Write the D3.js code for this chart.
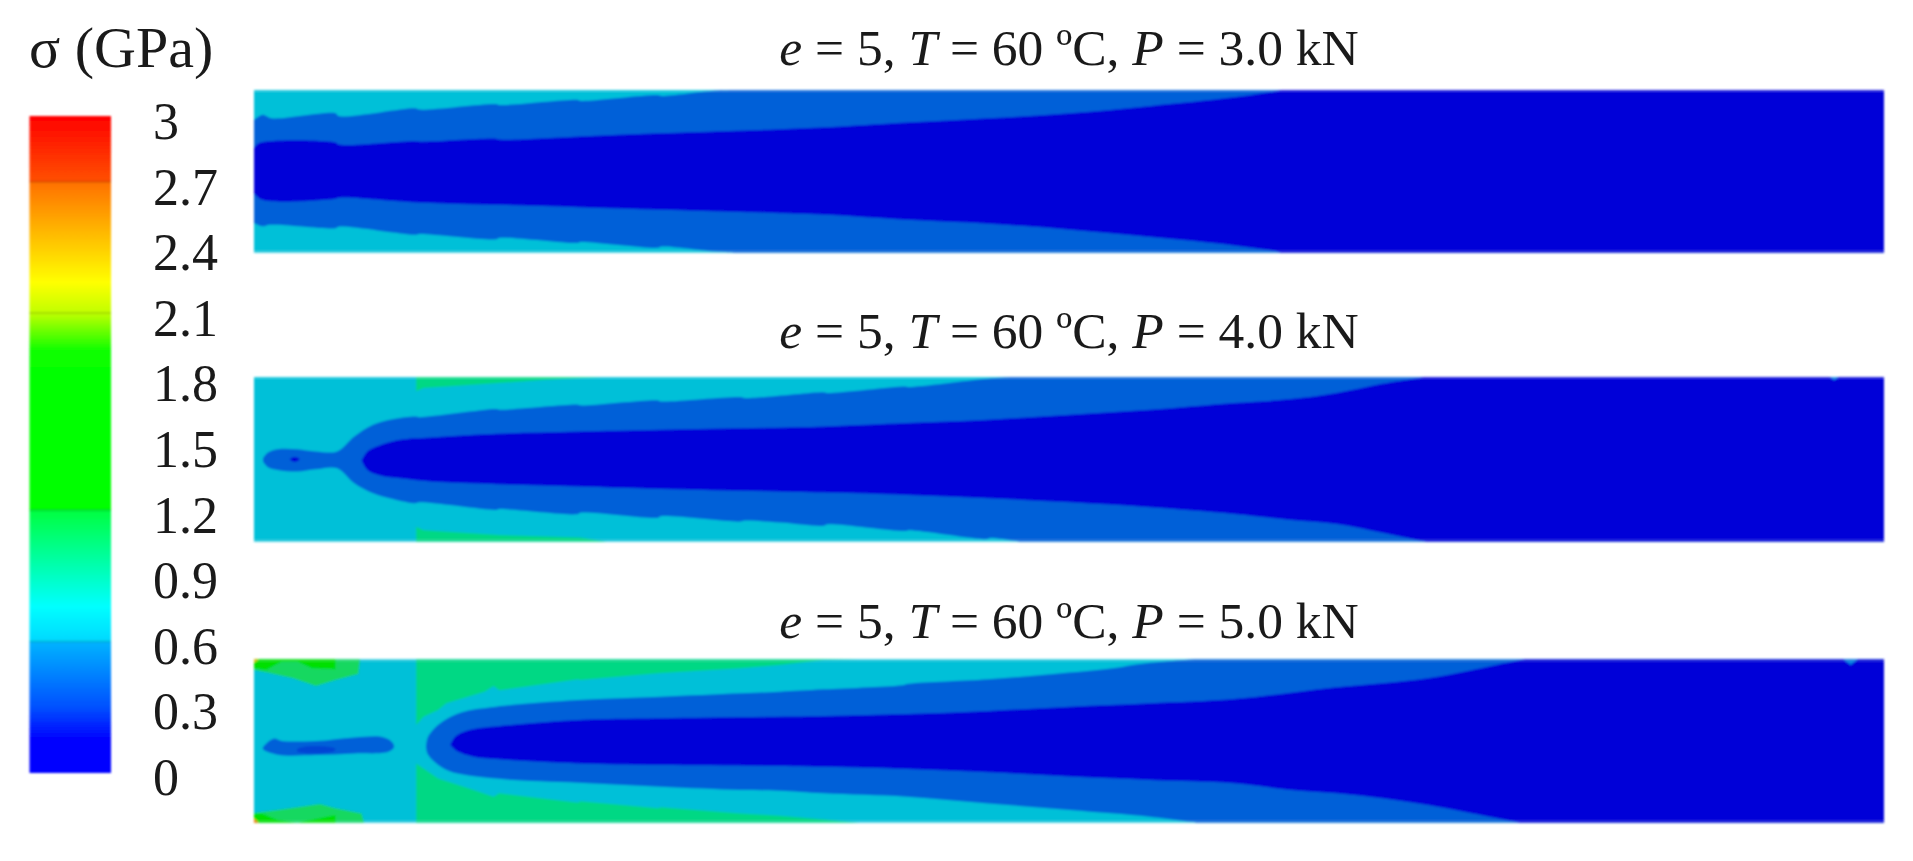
<!DOCTYPE html>
<html><head><meta charset="utf-8">
<script src="https://cdn.jsdelivr.net/npm/d3@7/dist/d3.min.js"></script>
<style>html,body{margin:0;background:#fff}svg{display:block}text{font-family:"Liberation Serif","Times New Roman",serif;fill:#1a1a1a}</style>
</head><body><svg id="c" width="1913" height="861"></svg>
<script>
// stress bands: [position along the specimen (element index), position across it (% of height)]
const p1OuterTop=[[0,18.4],[.1,15.3],[.22,17.4],[1,14.3],[1.04,16],[1.98,11.2],[2.03,12],[2.97,8.6],[3.01,9.2],[3.98,6.1],[4,6.6],[4.96,3.1],[4.99,3.6],[5.64,.4],[5.94,0]];
const p1OuterBottom=[[0,81.8],[.1,83.8],[.2,82.8],[1,84.9],[1.04,84],[1.98,89],[2.03,88.5],[2.97,91.8],[3.01,90.9],[3.98,94],[4,93.5],[4.96,97],[4.99,96.3],[5.64,99.2],[5.94,100]];
const p1InnerTop=[[0,35.8],[.06,32.7],[1,32.3],[1.04,33.5],[1.98,31.3],[2.03,31.7],[2.97,29.9],[3.01,30.5],[3.98,28.6],[4.96,26.6],[5.92,25],[6.45,24.1],[7.03,22.9],[8.01,20],[9.01,17.4],[10.01,14.3],[11,9.8],[12.02,4.5],[12.55,.6],[12.6,0]];
const p1InnerBottom=[[0,63.4],[.1,67.5],[1,66.9],[1.04,66.2],[2,69.1],[3.01,70.6],[3.98,72],[4.99,73.6],[5.97,75],[6.45,75.7],[7.03,76.7],[8.01,79.8],[9.01,82.2],[10.01,85.9],[11,90.4],[12.02,95.5],[12.55,99.2],[12.6,100]];

const p2OuterTop=[[.11,49.3],[.17,45.8],[.29,43.8],[.53,43.8],[.76,45.2],[1.02,45.2],[1.23,36.1],[1.46,29],[1.7,25.6],[1.98,24],[2.03,24.4],[2.97,19.5],[3.01,19.9],[3.98,16.8],[4,17.2],[4.96,14.2],[4.99,14.8],[5.97,12.2],[6.02,12.8],[6.99,9.3],[7.03,9.7],[7.99,5.7],[8.03,6],[9,1],[9.28,0]];
const p2OuterBottom=[[.11,51.3],[.17,54.8],[.29,56.4],[.53,57.4],[.76,56],[1.02,55.4],[1.23,64.5],[1.46,70.6],[1.7,74],[1.98,76.7],[2.03,76.1],[2.97,80.7],[3.01,80.2],[3.98,83.2],[4,82.4],[4.96,85.4],[4.99,84.6],[5.97,87.8],[6.02,87.2],[6.45,88.4],[6.99,90.3],[7.03,89.5],[7.99,93.5],[8.03,93],[9,98.4],[9.03,97.8],[9.32,99.4],[9.4,100]];
const p2InnerTop=[[1.32,50.7],[1.39,45.2],[1.56,41.2],[1.79,38.1],[2.17,36.7],[2.97,34.5],[3.98,33.1],[4.99,32],[7,30],[8.01,28],[9,26],[10.01,22.9],[10.99,19.9],[12.02,15.8],[12.72,13.4],[13.28,9.7],[13.84,4.1],[14.31,.4],[14.35,0]];
const p2InnerBottom=[[1.32,50.7],[1.39,56.4],[1.56,60],[1.79,61.5],[2.17,63.5],[2.97,65.1],[3.98,66.5],[4.99,68],[7,70.2],[8.01,71.6],[9,73.6],[10.01,76.1],[10.99,79.1],[12.02,83.2],[12.72,86.8],[13.28,89.2],[13.84,94.5],[14.34,99.6],[14.38,100]];
const p2GreenTop=[[1.99,0],[1.99,8.7],[2.08,6.7],[3.01,3.7],[3.58,1.6],[4.28,0]];
const p2GreenBottom=[[1.99,100],[1.99,90.9],[2.08,93],[3.01,95.9],[4,97.5],[4.33,100]];
const p2Spot=[[.44,50],[.5,48.6],[.56,50],[.5,51.6]];
const p2Notch=[[19.34,0],[19.39,2],[19.44,0]];

const p3GreenTop=[[1.99,0],[1.99,40.2],[2.08,35.1],[2.26,31],[2.36,26.9],[2.83,19.8],[2.94,16.3],[3.01,19],[3.98,12.2],[4,12.7],[4.96,8.6],[5.97,5.5],[6.45,3.5],[6.99,.4],[7.43,0]];
const p3GreenBottom=[[1.99,100],[1.99,63.7],[2.26,72.9],[2.64,79],[2.94,84.1],[3.01,82],[3.98,87.8],[4,86.8],[4.96,91.2],[4.99,90.6],[5.97,94.3],[6.45,95.7],[6.99,98],[7.43,100]];
const p3OuterTop=[[2.11,53.5],[2.13,48],[2.2,43],[2.31,38.2],[2.54,32.5],[2.97,29],[3.98,24.9],[4.99,22.9],[5.97,20.8],[6.45,19.8],[6.99,18.4],[7.97,15.7],[8.01,15.1],[9.01,12.2],[9.81,9],[10.54,5.5],[10.87,2.9],[11.53,0]];
const p3OuterBottom=[[2.11,53.5],[2.13,58],[2.22,63],[2.4,68.5],[2.97,73],[3.98,75.5],[4.99,78],[5.97,80],[6.45,80.4],[6.99,82],[8.01,84.1],[9.01,88.2],[10.01,92.2],[10.99,96.3],[11.57,100]];
const p3InnerTop=[[2.41,52.4],[2.47,47.3],[2.64,43.3],[3.01,40.8],[3.98,37.1],[4.99,36.1],[7,34.7],[8.01,33.5],[9.01,31.6],[10.01,29],[10.99,26.9],[12.02,24.3],[12.72,20.4],[13.28,17.1],[13.84,14.7],[14.4,11.6],[14.95,6.5],[15.54,.4],[15.6,0]];
const p3InnerBottom=[[2.41,52.4],[2.5,56.5],[2.69,59.6],[3.01,61.2],[3.98,63.7],[4.99,64.7],[7,65.7],[8.01,67.1],[9.01,69.2],[10.01,71.8],[10.99,73.9],[12.02,75.9],[12.72,80],[13.28,82],[13.84,85.1],[14.4,89.2],[14.95,94.3],[15.54,100]];
const p3Blob=[[.11,53.9],[.24,48.6],[.34,50],[.76,50],[1.23,47.8],[1.56,47.4],[1.68,50],[1.72,53.5],[1.65,56.6],[1.23,57.6],[.76,58.6],[.29,58.4],[.11,55.1]];
const p3BlobCore=[[.53,55.1],[.62,53.5],[.9,53.5],[1,54.7],[.97,56.5],[.53,56.5]];
const p3PatchTop=[[0,0],[0,6.5],[.2,8.6],[.48,11.6],[.76,16.3],[1,12.7],[1.28,9],[1.3,0]];
const p3PatchBottom=[[0,100],[0,94],[.29,92.2],[.81,88.6],[1,91.2],[1.32,94.3],[1.35,100]];
const p3HotTop=[[0,0],[0,5.5],[.15,6.5],[.34,1.4],[.53,1.4],[.71,5.5],[1,6.1],[1,0]];
const p3HotBottom=[[0,100],[0,94.3],[.1,94.3],[.29,98.4],[.53,100],[1,95.3],[1,100]];
const p3CornerTop=[[0,0],[0,2],[.06,0]];
const p3CornerBottom=[[0,100],[0,97.5],[.06,100]];
const p3Notch=[[19.5,0],[19.59,3.5],[19.68,0]];

const titles=["3.0","4.0","5.0"];
const legendTicks=[3,2.7,2.4,2.1,1.8,1.5,1.2,.9,.6,.3,0];
const legendTickLabels=["3","2.7","2.4","2.1","1.8","1.5","1.2","0.9","0.6","0.3","0"];
const legendLines=[2.7,2.1,1.2,.6];
const gradValues=[3,2.7,2.7,2.24,2.1,1.93,1.8,1.2,1.2,.76,.6,.6,.3,.15,0];
const gradColors=["#ff0000","#ff5000","#ff7000","#ffff00","#c0ff00","#10ff00","#00ff00","#00ff00","#00ff40","#00ffff","#00d8ff","#00b4ff","#0050ff","#0000ff","#0000ff"];

const cBg="#00c0d8",cMid="#0060d8",cDark="#0000d8",cGreen="#00d884",cPatch="#14d860",cHot="#00e000";
const panelBands=[{top:90,bottom:252.7},{top:377,bottom:541.7},{top:659.3,bottom:822.7}];
const svg=d3.select("#c");
const defs=svg.append("defs");
const blur=defs.append("filter").attr("id","soft").attr("filterUnits","userSpaceOnUse")
 .attr("x",0).attr("y",0).attr("width",1913).attr("height",861);
blur.append("feGaussianBlur").attr("stdDeviation",.8);

const x=d3.scaleLinear().domain([0,20]).range([254,1884]);
function drawPanel(i,layers){
 const b=panelBands[i];
 const y=d3.scaleLinear().domain([0,100]).range([b.top,b.bottom]);
 const px=d=>x(d[0]), py=d=>y(d[1]);
 const smooth=d3.line().x(px).y(py).curve(d3.curveCatmullRom.alpha(.5));
 const blob=d3.line().x(px).y(py).curve(d3.curveCatmullRomClosed.alpha(.5));
 const plain=d3.line().x(px).y(py);
 const pathOf=d=>{
  if(d.top) return smooth(d.top)+"L"+x(20)+","+y(0)+"L"+x(20)+","+y(100)+"L"+smooth(d.bottom.slice().reverse()).slice(1)+"Z";
  return (d.round?blob:plain)(d.pts)+"Z";
 };
 const g=svg.append("g").attr("filter","url(#soft)");
 g.append("rect").attr("x",x(0)).attr("y",y(0)).attr("width",x(20)-x(0)).attr("height",y(100)-y(0)).attr("fill",cBg);
 g.selectAll("path").data(layers).join("path").attr("d",pathOf).attr("fill",d=>d.fill);
 [0,100].forEach(v=>g.append("rect").attr("x",x(0)).attr("width",x(20)-x(0))
   .attr("y",v?y(100)-2:y(0)).attr("height",2).attr("fill","#fff").attr("opacity",.16));
}
drawPanel(0,[
 {top:p1OuterTop,bottom:p1OuterBottom,fill:cMid},
 {top:p1InnerTop,bottom:p1InnerBottom,fill:cDark}]);
drawPanel(1,[
 {pts:p2GreenTop,fill:cGreen},{pts:p2GreenBottom,fill:cGreen},
 {top:p2OuterTop,bottom:p2OuterBottom,fill:cMid},
 {top:p2InnerTop,bottom:p2InnerBottom,fill:cDark},
 {pts:p2Spot,fill:cDark,round:true},{pts:p2Notch,fill:"#0080e0"}]);
drawPanel(2,[
 {pts:p3GreenTop,fill:cGreen},{pts:p3GreenBottom,fill:cGreen},
 {pts:p3PatchTop,fill:cPatch},{pts:p3PatchBottom,fill:cPatch},
 {pts:p3HotTop,fill:cHot},{pts:p3HotBottom,fill:cHot},
 {pts:p3CornerTop,fill:"#f0b000"},{pts:p3CornerBottom,fill:"#ff7000"},
 {top:p3OuterTop,bottom:p3OuterBottom,fill:cMid},
 {top:p3InnerTop,bottom:p3InnerBottom,fill:cDark},
 {pts:p3Blob,fill:cMid,round:true},{pts:p3BlobCore,fill:"#0044d4",round:true},{pts:p3Notch,fill:"#0080e0"}]);

// legend
const ly=d3.scaleLinear().domain([0,3]).range([773,116]);
const labelY=d3.scaleLinear().domain([0,3]).range([795,139]);
const grad=defs.append("linearGradient").attr("id","rainbow").attr("gradientUnits","userSpaceOnUse")
 .attr("x1",0).attr("x2",0).attr("y1",ly(3)).attr("y2",ly(0));
grad.selectAll("stop").data(gradValues).join("stop")
 .attr("offset",d=>(ly(d)-ly(3))/(ly(0)-ly(3))).attr("stop-color",(d,i)=>gradColors[i]);
const lg=svg.append("g").attr("filter","url(#soft)");
lg.append("rect").attr("x",29.5).attr("width",81.5).attr("y",ly(3)).attr("height",ly(0)-ly(3)).attr("fill","url(#rainbow)");
lg.selectAll("line").data(legendLines).join("line")
 .attr("x1",29.5).attr("x2",111).attr("y1",d=>ly(d)).attr("y2",d=>ly(d))
 .attr("stroke","#000").attr("stroke-opacity",.13).attr("stroke-width",2);
svg.append("g").selectAll("text").data(legendTicks).join("text")
 .attr("x",153).attr("y",d=>labelY(d)).attr("font-size",52).text((d,i)=>legendTickLabels[i]);
svg.append("text").attr("x",29).attr("y",67).attr("font-size",58).text("σ (GPa)");

// panel titles
const baselines=[65,348,638];
titles.forEach((t,i)=>{
 const tx=svg.append("text").attr("x",1069).attr("y",baselines[i]).attr("text-anchor","middle").attr("font-size",51.5);
 tx.append("tspan").attr("font-style","italic").text("e");
 tx.append("tspan").text(" = 5, ");
 tx.append("tspan").attr("font-style","italic").text("T");
 tx.append("tspan").text(" = 60 ºC, ");
 tx.append("tspan").attr("font-style","italic").text("P");
 tx.append("tspan").text(" = "+t+" kN");
});
</script></body></html>
